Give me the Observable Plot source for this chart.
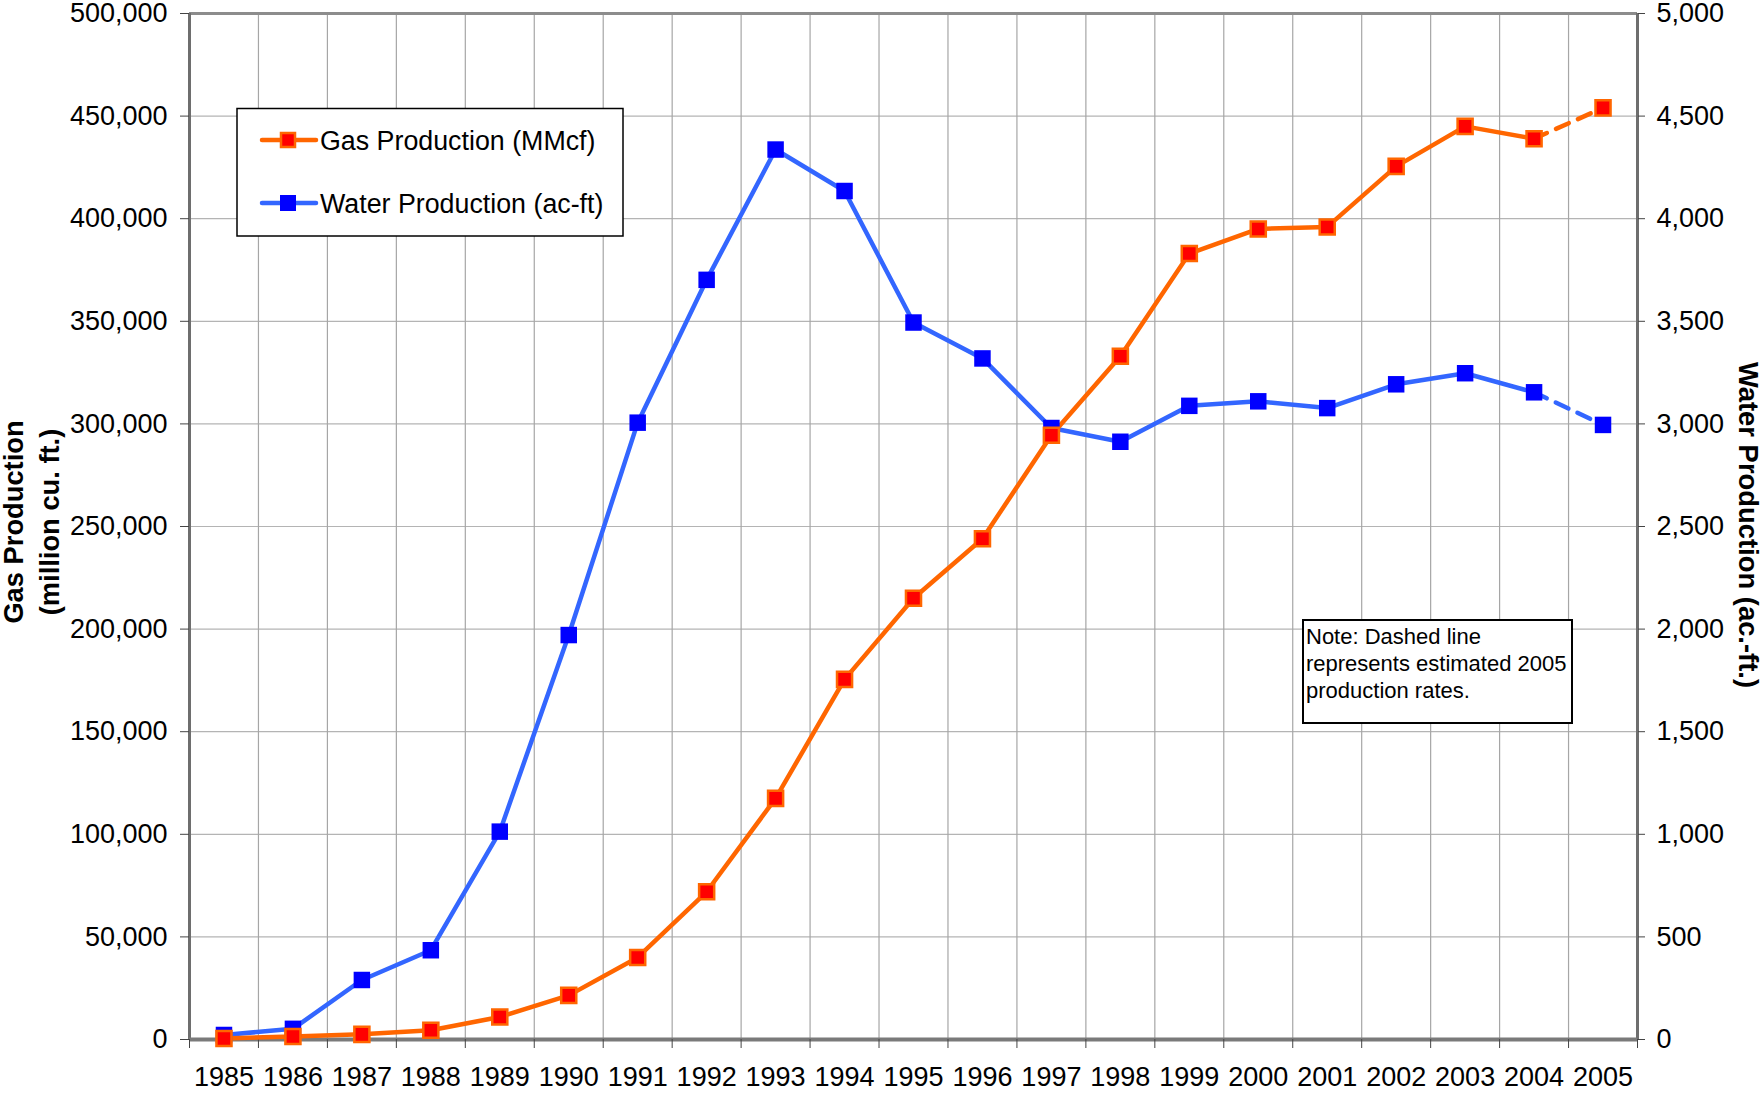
<!DOCTYPE html>
<html><head><meta charset="utf-8">
<script src="https://cdn.jsdelivr.net/npm/d3@7"></script>
<script src="https://cdn.jsdelivr.net/npm/@observablehq/plot@0.6"></script>
<style>
html,body{margin:0;padding:0;background:#fff;}
#wrap{position:relative;width:1763px;height:1094px;font-family:"Liberation Sans",Arial,sans-serif;}
#wrap svg{position:absolute;left:0;top:0;}
</style></head><body><div id="wrap"></div>
<script>
// ---- data ----
const years = [1985,1986,1987,1988,1989,1990,1991,1992,1993,1994,1995,1996,1997,1998,1999,2000,2001,2002,2003,2004,2005];
const gasProduction = [500,1500,2500,4500,11000,21500,40000,72000,117500,175500,215000,244000,294500,333000,383000,395000,396000,425500,445000,439000,454000];
const waterProduction = [22,52,290,435,1013,1971,3006,3702,4337,4135,3494,3319,2980,2913,3088,3110,3077,3193,3247,3154,2995];
const estimatedYear = 2005;
const leftTicks = [0,50000,100000,150000,200000,250000,300000,350000,400000,450000,500000];
const rightTicks = [0,500,1000,1500,2000,2500,3000,3500,4000,4500,5000];
const gasLabel = "Gas Production (MMcf)";
const waterLabel = "Water Production (ac-ft)";
const leftTitle = ["Gas Production", "(million cu. ft.)"];
const rightTitle = "Water Production (ac.-ft.)";
const noteLines = ["Note: Dashed line", "represents estimated 2005", "production rates."];

// ---- layout ----
const W = 1763, H = 1094;
const RATIO = leftTicks[leftTicks.length-1] / rightTicks[rightTicks.length-1];
const FONT = '"Liberation Sans", Arial, sans-serif';
const gasLine = "#ff6600", gasFill = "#ff0000";
const waterLine = "#3366ff", waterFill = "#0000ff";

const boundaries = years.map(y => y - 0.5).concat([years[years.length-1] + 0.5]);
const gasData = years.map((y,i) => ({year:y, value:gasProduction[i]}));
const waterData = years.map((y,i) => ({year:y, value:waterProduction[i]*RATIO}));
const cut = years.indexOf(estimatedYear);
const gasSolid = gasData.slice(0, cut), gasDash = gasData.slice(cut-1);
const waterSolid = waterData.slice(0, cut), waterDash = waterData.slice(cut-1);
const fmt = d3.format(",");

const chart = Plot.plot({
  width: W, height: H,
  marginLeft: 189, marginRight: 126, marginTop: 13, marginBottom: 55,
  style: {fontFamily: FONT, fontSize: "27px", color: "#000", background: "#fff", overflow: "visible"},
  x: {type: "linear", domain: [boundaries[0], boundaries[boundaries.length-1]], label: null},
  y: {domain: [leftTicks[0], leftTicks[leftTicks.length-1]], label: null},
  marks: [
    Plot.gridY(leftTicks, {stroke: "#b4b4b4", strokeOpacity: 1, strokeWidth: 1.2}),
    Plot.gridX(boundaries, {stroke: "#a6a6a6", strokeOpacity: 1, strokeWidth: 1.2}),
    Plot.ruleY([leftTicks[leftTicks.length-1]], {stroke: "#8c8c8c", strokeWidth: 3}),
    Plot.ruleX([boundaries[0]], {stroke: "#6e6e6e", strokeWidth: 3}),
    Plot.ruleX([boundaries[boundaries.length-1]], {stroke: "#6e6e6e", strokeWidth: 3}),
    Plot.ruleY([0], {stroke: "#7a7a7a", strokeWidth: 4}),
    Plot.axisY(leftTicks, {anchor: "left", tickFormat: fmt, tickSize: 9, tickPadding: 13, label: null, stroke: "#444"}),
    Plot.axisY(rightTicks.map(v => v*RATIO), {anchor: "right", tickFormat: d => fmt(d/RATIO), tickSize: 7, tickPadding: 12, label: null, stroke: "#444"}),
    Plot.axisX(boundaries, {anchor: "bottom", tickSize: 9, tickFormat: () => "", label: null, stroke: "#444"}),
    Plot.axisX(years, {anchor: "bottom", tickSize: 0, tickPadding: 27, tickFormat: d => String(d), label: null}),
    Plot.line(waterSolid, {x: "year", y: "value", stroke: waterLine, strokeWidth: 4.5}),
    Plot.line(waterDash, {x: "year", y: "value", stroke: waterLine, strokeWidth: 4.5, strokeDasharray: "14,10"}),
    Plot.line(gasSolid, {x: "year", y: "value", stroke: gasLine, strokeWidth: 4.5}),
    Plot.line(gasDash, {x: "year", y: "value", stroke: gasLine, strokeWidth: 4.5, strokeDasharray: "14,10"}),
    Plot.dot(waterData, {x: "year", y: "value", symbol: "square", r: 9.3, fill: waterFill, stroke: "none"}),
    Plot.dot(gasData, {x: "year", y: "value", symbol: "square", r: 8.5, fill: gasFill, stroke: gasLine, strokeWidth: 2.5})
  ]
});
document.getElementById("wrap").appendChild(chart);

// ---- annotations: legend, note, axis titles ----
const svg = d3.select(chart);
const g = svg.append("g").attr("font-family", FONT).attr("text-anchor", "start");

// legend
g.append("rect").attr("x", 237).attr("y", 108.5).attr("width", 386).attr("height", 127.5)
  .attr("fill", "#fff").attr("stroke", "#000").attr("stroke-width", 1.5);
[[gasLabel, gasLine, gasFill, 140, 150, true], [waterLabel, waterLine, waterFill, 203, 213, false]].forEach(([lab, lc, fc, cy, by, outlined]) => {
  g.append("line").attr("x1", 262).attr("x2", 316).attr("y1", cy).attr("y2", cy)
    .attr("stroke", lc).attr("stroke-width", 4.5).attr("stroke-linecap", "round");
  if (outlined) {
    g.append("rect").attr("x", 281).attr("y", cy-7).attr("width", 14).attr("height", 14)
      .attr("fill", fc).attr("stroke", lc).attr("stroke-width", 2.5);
  } else {
    g.append("rect").attr("x", 280).attr("y", cy-8).attr("width", 16).attr("height", 16).attr("fill", fc);
  }
  g.append("text").attr("x", 320).attr("y", by).attr("text-anchor", "start").attr("font-size", 26.8).attr("fill", "#000").text(lab);
});

// note
g.append("rect").attr("x", 1303).attr("y", 620).attr("width", 269).attr("height", 103)
  .attr("fill", "#fff").attr("stroke", "#000").attr("stroke-width", 2);
noteLines.forEach((t, i) => {
  g.append("text").attr("x", 1306).attr("y", 644 + i*27).attr("text-anchor", "start").attr("font-size", 22).attr("fill", "#000").text(t);
});

// left title
leftTitle.forEach((t, i) => {
  g.append("text").attr("transform", `translate(${23 + i*36},522) rotate(-90)`)
    .attr("text-anchor", "middle").attr("font-size", 27.3).attr("font-weight", "bold").attr("fill", "#000").text(t);
});
// right title
g.append("text").attr("transform", `translate(1739,525) rotate(90)`)
  .attr("text-anchor", "middle").attr("font-size", 27.4).attr("font-weight", "bold").attr("fill", "#000").text(rightTitle);
</script>
</body></html>
